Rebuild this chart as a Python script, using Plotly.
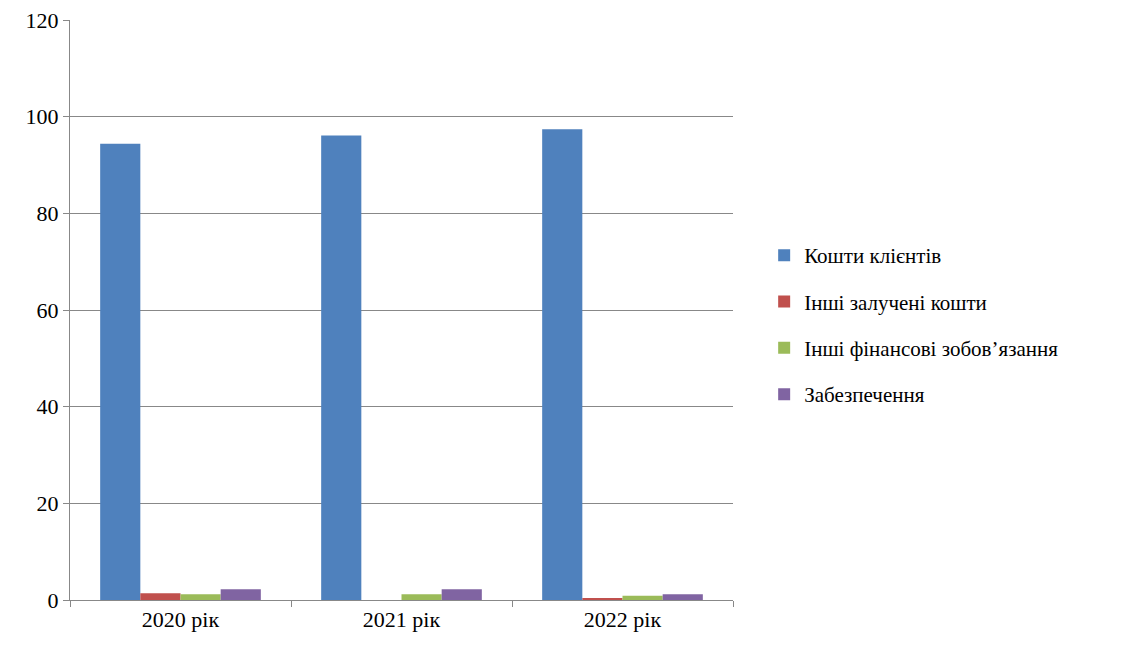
import plotly.graph_objects as go

categories = ["2020 рік", "2021 рік", "2022 рік"]
series_names = ["Кошти клієнтів", "Інші залучені кошти", "Інші фінансові зобов’язання", "Забезпечення"]
kosht_klientiv = [94.4, 96.1, 97.4]
inshi_zalucheni = [1.4, 0.0, 0.4]
inshi_finansovi = [1.2, 1.2, 0.9]
zabezpechennia = [2.2, 2.2, 1.2]
colors = ["#4F81BD", "#C0504D", "#9BBB59", "#8064A2"]
y_ticks = [0, 20, 40, 60, 80, 100, 120]

fig = go.Figure()
for name, vals, c in zip(series_names,
                         [kosht_klientiv, inshi_zalucheni, inshi_finansovi, zabezpechennia],
                         colors):
    fig.add_trace(go.Bar(x=categories, y=vals, name=name, marker_color=c,
                         marker_line_width=0, legendgroup=name))

font_family = "Times New Roman, Liberation Serif, DejaVu Serif, serif"
fig.update_layout(
    template="none",
    width=1133, height=648,
    margin=dict(l=70, r=400, t=20, b=48),
    paper_bgcolor="white", plot_bgcolor="white",
    barmode="group", bargap=0.273, bargroupgap=0,
    font=dict(family=font_family, size=20, color="black"),
    legend=dict(x=1.047, y=0.474, xanchor="left", yanchor="middle",
                font=dict(size=21, family=font_family, color="black"), tracegroupgap=16,
                itemwidth=30),
    showlegend=True,
)
fig.update_yaxes(range=[0, 120], tickvals=y_ticks, showgrid=True, gridcolor="#888888",
                 gridwidth=1, showline=True, linecolor="#888888", linewidth=1,
                 ticks="outside", ticklen=6, tickcolor="#888888", zeroline=False,
                 automargin=False,
                 tickfont=dict(size=22, family=font_family, color="black"))
fig.update_xaxes(showline=True, linecolor="#888888", linewidth=1, ticks="outside",
                 tickson="boundaries", ticklen=6, tickcolor="#888888", showgrid=False,
                 automargin=False,
                 tickfont=dict(size=22, family=font_family, color="black"))

fig.write_html("out.html")
